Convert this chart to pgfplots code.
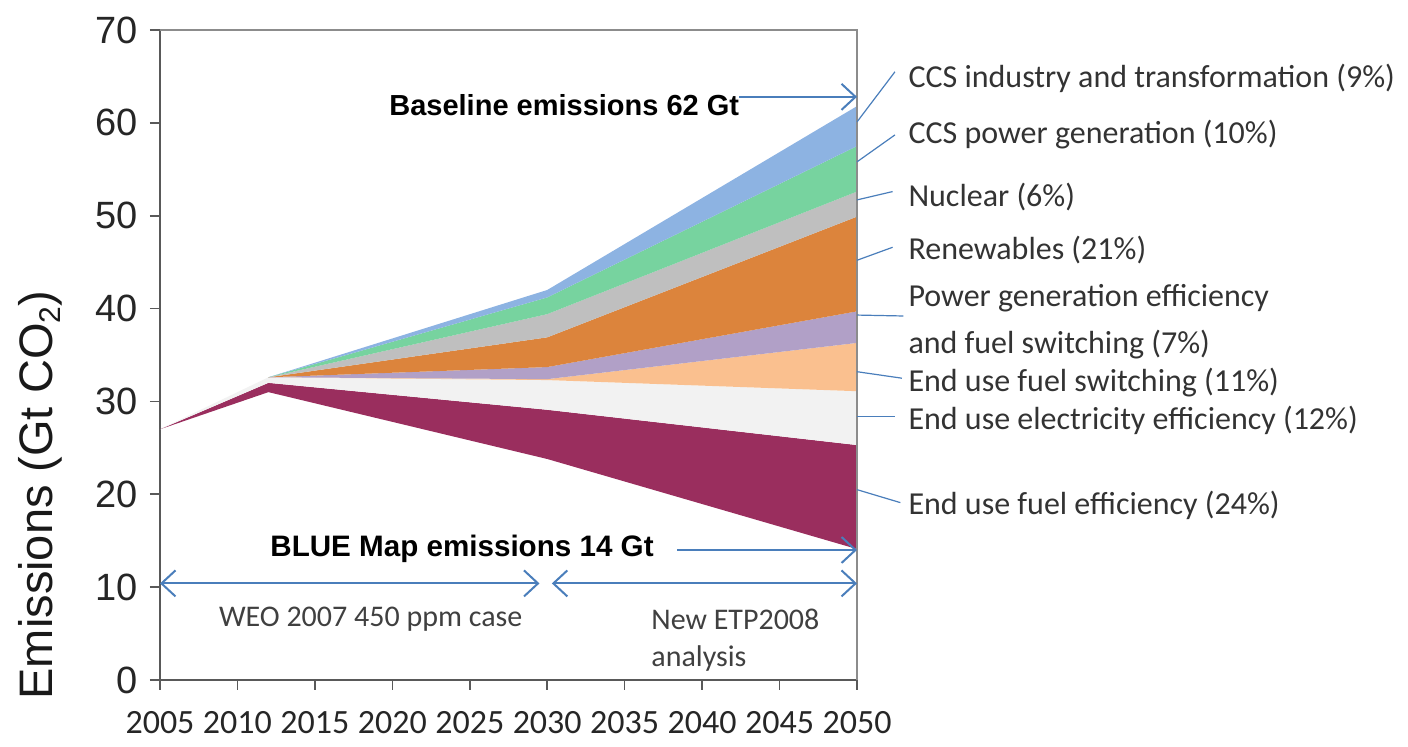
\documentclass[border=0pt]{standalone}
\usepackage{fontspec}
\setmainfont{Liberation Sans}
\newfontfamily\calib{Carlito}
\usepackage{pgfplots}
\pgfplotsset{compat=1.18}
\usetikzlibrary{arrows.meta}
\definecolor{cBlue}{RGB}{141,179,226}
\definecolor{cGreen}{RGB}{119,211,159}
\definecolor{cGrey}{RGB}{191,191,191}
\definecolor{cOrange}{RGB}{220,132,60}
\definecolor{cLilac}{RGB}{177,160,199}
\definecolor{cPeach}{RGB}{250,192,143}
\definecolor{cLight}{RGB}{242,242,242}
\definecolor{cPurple}{RGB}{154,46,94}
\definecolor{cArrow}{RGB}{74,126,187}
\begin{document}
\begin{tikzpicture}
\useasboundingbox (-80pt,-33.5pt) rectangle (624pt,340pt);
\begin{axis}[
 at={(0,0)}, anchor=south west,
 scale only axis, width=348.5pt, height=325pt,
 xmin=2005, xmax=2050, ymin=0, ymax=70,
 axis x line*=bottom, axis y line*=left,
 axis line style={draw=black!65, line width=1pt},
 xtick={2005,2010,...,2050}, ytick={0,10,...,70},
 tick align=outside, major tick length=5pt,
 tick style={black!65, line width=0.8pt},
 /pgf/number format/assume math mode=true,
 /pgf/number format/1000 sep={},
 yticklabel style={font=\fontsize{19}{19}\selectfont, text=black!85, xshift=-2.5pt},
 xticklabel style={font=\calib\fontsize{17}{17}\selectfont, text=black!85, yshift=-7pt},
 clip=false,
]
% End use fuel efficiency (between BLUE Map and B1)
\addplot[draw=none, fill=cPurple] coordinates {(2005,27) (2012,32.0) (2030,29.1) (2050,25.3) (2050,14.1) (2030,23.8) (2012,31.0) (2005,27)} -- cycle;
% End use electricity efficiency
\addplot[draw=none, fill=cLight] coordinates {(2005,27) (2012,32.6) (2030,32.3) (2050,31.1) (2050,25.3) (2030,29.1) (2012,32.0) (2005,27)} -- cycle;
% End use fuel switching
\addplot[draw=none, fill=cPeach] coordinates {(2012,32.6) (2030,32.4) (2050,36.3) (2050,31.1) (2030,32.3) (2012,32.6)} -- cycle;
% Power generation efficiency and fuel switching
\addplot[draw=none, fill=cLilac] coordinates {(2012,32.6) (2030,33.7) (2050,39.7) (2050,36.3) (2030,32.4) (2012,32.6)} -- cycle;
% Renewables
\addplot[draw=none, fill=cOrange] coordinates {(2012,32.6) (2030,36.9) (2050,49.9) (2050,39.7) (2030,33.7) (2012,32.6)} -- cycle;
% Nuclear
\addplot[draw=none, fill=cGrey] coordinates {(2012,32.6) (2030,39.4) (2050,52.6) (2050,49.9) (2030,36.9) (2012,32.6)} -- cycle;
% CCS power generation
\addplot[draw=none, fill=cGreen] coordinates {(2012,32.6) (2030,41.2) (2050,57.5) (2050,52.6) (2030,39.4) (2012,32.6)} -- cycle;
% CCS industry and transformation
\addplot[draw=none, fill=cBlue] coordinates {(2012,32.6) (2030,42.0) (2050,61.8) (2050,57.5) (2030,41.2) (2012,32.6)} -- cycle;

% frame top and right
\draw[black!45, line width=0.7pt] (2005,70) -- (2050,70) -- (2050,0);

% arrows
\draw[cArrow, line width=1pt, -{Straight Barb[length=7pt,width=13pt]}] (2042.4,62.8) -- (2050,62.8);
\draw[cArrow, line width=1pt, -{Straight Barb[length=7pt,width=13pt]}] (2038.4,14.0) -- (2050,14.0);
\draw[cArrow, line width=1pt, {Straight Barb[length=7pt,width=13pt]}-{Straight Barb[length=7pt,width=13pt]}] (2005,10.4) -- (2029.5,10.4);
\draw[cArrow, line width=1pt, {Straight Barb[length=7pt,width=13pt]}-{Straight Barb[length=7pt,width=13pt]}] (2030.3,10.4) -- (2050,10.4);

% leader lines
\draw[cArrow, line width=0.6pt] (2050,60.1) -- (2052.45,65.5);
\draw[cArrow, line width=0.6pt] (2050,55.8) -- (2052.45,58.7);
\draw[cArrow, line width=0.6pt] (2050,51.7) -- (2052.3,52.6);
\draw[cArrow, line width=0.6pt] (2050,45.2) -- (2052.3,46.6);
\draw[cArrow, line width=0.6pt] (2050,39.3) -- (2053.0,39.2);
\draw[cArrow, line width=0.6pt] (2050,33.2) -- (2052.9,32.5);
\draw[cArrow, line width=0.6pt] (2050,28.4) -- (2052.45,28.4);
\draw[cArrow, line width=0.6pt] (2050,20.5) -- (2052.8,19.1);

% right labels
\node[anchor=west, inner sep=0pt, text=black!80, font=\calib\fontsize{16}{16}\selectfont] at (2053.3,64.8) {CCS industry and transformation (9\%)};
\node[anchor=west, inner sep=0pt, text=black!80, font=\calib\fontsize{16}{16}\selectfont] at (2053.3,58.7) {CCS power generation (10\%)};
\node[anchor=west, inner sep=0pt, text=black!80, font=\calib\fontsize{16}{16}\selectfont] at (2053.3,52.0) {Nuclear (6\%)};
\node[anchor=west, inner sep=0pt, text=black!80, font=\calib\fontsize{16}{16}\selectfont] at (2053.3,46.3) {Renewables (21\%)};
\node[anchor=west, inner sep=0pt, text=black!80, font=\calib\fontsize{16}{16}\selectfont] at (2053.3,41.1) {Power generation efficiency};
\node[anchor=west, inner sep=0pt, text=black!80, font=\calib\fontsize{16}{16}\selectfont] at (2053.3,36.1) {and fuel switching (7\%)};
\node[anchor=west, inner sep=0pt, text=black!80, font=\calib\fontsize{16}{16}\selectfont] at (2053.3,32.0) {End use fuel switching (11\%)};
\node[anchor=west, inner sep=0pt, text=black!80, font=\calib\fontsize{16}{16}\selectfont] at (2053.3,28.0) {End use electricity efficiency (12\%)};
\node[anchor=west, inner sep=0pt, text=black!80, font=\calib\fontsize{16}{16}\selectfont] at (2053.3,18.8) {End use fuel efficiency (24\%)};

% bold annotations
\node[font=\bfseries\fontsize{14.5}{14.5}\selectfont, inner sep=0pt] at (2031.1,61.9) {Baseline emissions 62 Gt};
\node[font=\bfseries\fontsize{14.8}{14.8}\selectfont, inner sep=0pt] at (2024.5,14.1) {BLUE Map emissions 14 Gt};

% period labels
\node[font=\calib\fontsize{15}{15}\selectfont, text=black!75, inner sep=0pt] at (2018.6,6.5) {WEO 2007 450 ppm case};
\node[anchor=west, font=\calib\fontsize{15}{15}\selectfont, text=black!75, inner sep=0pt] at (2036.7,6.5) {New ETP2008};
\node[anchor=west, font=\calib\fontsize{15}{15}\selectfont, text=black!75, inner sep=0pt] at (2036.7,2.3) {analysis};

% y label
\node[rotate=90, font=\fontsize{23.5}{23.5}\selectfont, text=black!90, inner sep=0pt] at (1997.25,19.9) {Emissions (Gt CO\raisebox{-0.35ex}{\fontsize{15}{15}\selectfont 2})};
\end{axis}
\end{tikzpicture}
\end{document}
